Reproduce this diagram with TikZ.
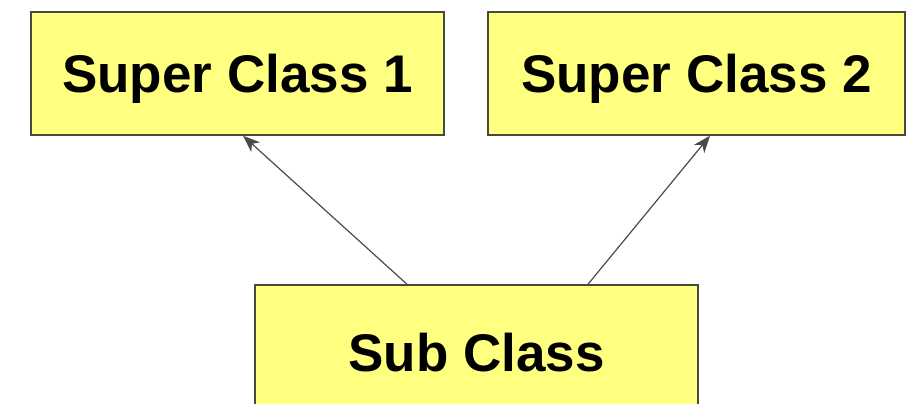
\documentclass[tikz,border=0pt]{standalone}
\usepackage{fontspec}
\setmainfont{Liberation Sans}
\usetikzlibrary{arrows.meta}
\definecolor{boxfill}{HTML}{FFFF80}
\definecolor{boxline}{HTML}{4A4A3A}
\definecolor{arrowcol}{HTML}{4A4A4A}
\tikzset{
  classbox/.style={draw=boxline, fill=boxfill, line width=1.5pt, inner sep=0pt,
    font=\fontsize{53}{60}\selectfont\bfseries, text height=38pt, text depth=0pt,
    align=center},
  inherit/.style={draw=arrowcol, line width=1.2pt, -{Stealth[length=17pt,width=13pt,inset=5pt]}}
}
\begin{document}
\begin{tikzpicture}[x=1pt,y=1pt]
\useasboundingbox (0,0) rectangle (907,404);
\clip (0,0) rectangle (907,404);
\fill[white] (0,0) rectangle (907,404);
\node[classbox, minimum width=413pt, minimum height=123pt] (sc1) at (237.5,330.5) {Super Class 1};
\node[classbox, minimum width=417pt, minimum height=123pt] (sc2) at (696.5,330.5) {Super Class 2};
\node[classbox, minimum width=443pt, minimum height=135pt] (sub) at (476.5,51.5) {Sub Class};
\draw[inherit] ([xshift=-69.5pt]sub.north) -- ([xshift=5.5pt]sc1.south);
\draw[inherit] ([xshift=111.5pt]sub.north) -- ([xshift=13.5pt]sc2.south);
\end{tikzpicture}
\end{document}
